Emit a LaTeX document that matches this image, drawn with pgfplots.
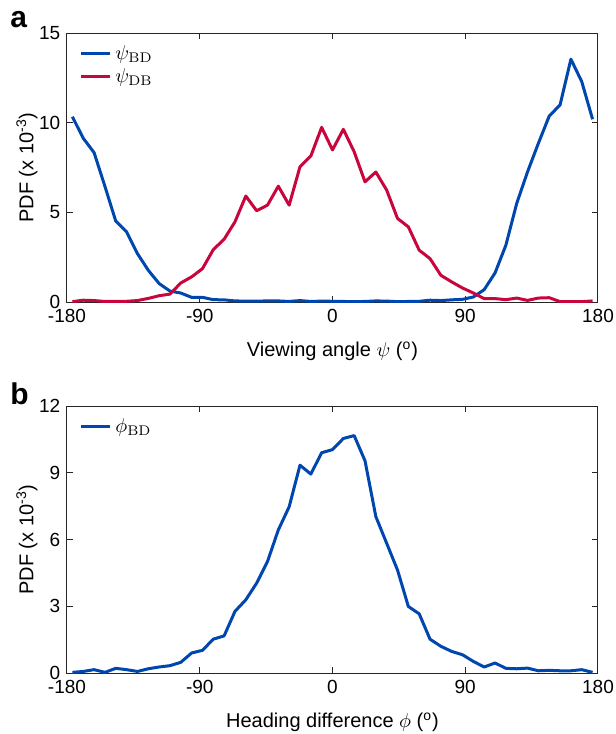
\documentclass[border=0pt]{standalone}
\usepackage[no-math]{fontspec}
\setmainfont{Liberation Sans}
\usepackage{pgfplots}
\usepackage{pgfplotstable}
\pgfplotsset{compat=1.18}
\definecolor{cblue}{RGB}{0,70,175}
\definecolor{cred}{RGB}{200,5,60}

\pgfplotstableread{
x psiBD psiDB phiBD
-176.33 10.33 0.02 0.03
-168.98 9.13 0.10 0.07
-161.63 8.33 0.08 0.15
-154.29 6.45 0.03 0.03
-146.94 4.51 0.03 0.21
-139.59 3.91 0.04 0.15
-132.24 2.70 0.08 0.07
-124.90 1.77 0.20 0.19
-117.55 1.03 0.35 0.27
-110.20 0.61 0.44 0.33
-102.86 0.50 1.06 0.48
-95.51 0.26 1.40 0.90
-88.16 0.26 1.86 1.02
-80.82 0.13 2.92 1.52
-73.47 0.12 3.50 1.67
-66.12 0.06 4.47 2.77
-58.78 0.05 5.91 3.29
-51.43 0.05 5.09 4.04
-44.08 0.06 5.40 5.01
-36.73 0.06 6.46 6.43
-29.39 0.03 5.40 7.47
-22.04 0.08 7.54 9.34
-14.69 0.03 8.14 8.94
-7.35 0.05 9.74 9.90
0.00 0.04 8.48 10.04
7.35 0.03 9.63 10.54
14.69 0.02 8.38 10.67
22.04 0.03 6.70 9.54
29.39 0.06 7.25 7.03
36.73 0.05 6.24 5.83
44.08 0.02 4.66 4.63
51.43 0.03 4.19 2.99
58.78 0.04 2.89 2.66
66.12 0.10 2.42 1.52
73.47 0.08 1.49 1.20
80.82 0.12 1.12 0.97
88.16 0.15 0.78 0.82
95.51 0.28 0.50 0.52
102.86 0.69 0.19 0.27
110.20 1.62 0.19 0.45
117.55 3.17 0.13 0.21
124.90 5.50 0.22 0.19
132.24 7.26 0.09 0.22
139.59 8.85 0.22 0.10
146.94 10.37 0.24 0.12
154.29 10.99 0.02 0.10
161.63 13.54 0.02 0.10
168.98 12.29 0.02 0.15
176.33 10.19 0.06 0.03
}\datatable

\pgfplotsset{myax/.style={
  scale only axis, width=265.5pt,
  xmin=-180, xmax=180, xtick={-180,-90,0,90,180}, xticklabels={-180,-90,0,90,180},
  ymin=0,
  tick align=inside, major tick length=3pt,
  axis line style={line width=0.5pt, black!85},
  every tick/.style={black!85, line width=0.5pt},
  tick label style={font=\fontsize{9.5}{11}\selectfont},
  xticklabel style={inner sep=1pt, yshift=-2.2pt},
  yticklabel style={inner sep=1pt, xshift=-2.2pt},
  /pgf/number format/assume math mode=true,
  label style={font=\fontsize{10}{12}\selectfont},
  xlabel style={at={(axis description cs:0.5,0)}, anchor=center, yshift=-24.75pt},
  ylabel style={at={(axis description cs:0,0.5)}, anchor=center, yshift=20pt},
  legend style={draw=none, fill=none, at={(axis description cs:0,1)}, anchor=north west, xshift=6pt, yshift=-4pt, font=\fontsize{10}{12}\selectfont, row sep=-1pt, inner sep=0pt},
  legend cell align=left,
  legend image code/.code={\draw[#1, line width=1.5pt] (0pt,0pt) -- (14.5pt,0pt);},
  every axis plot/.append style={line width=1.5pt, line join=round, no markers},
}}

\begin{document}
\begin{tikzpicture}
\useasboundingbox (0,0) rectangle (308pt,-367pt);
\node[anchor=base west, font=\bfseries\fontsize{15}{18}\selectfont, inner sep=0pt] at (5pt,-13.5pt) {a};
\node[anchor=base west, font=\bfseries\fontsize{15}{18}\selectfont, inner sep=0pt] at (5pt,-202pt) {b};
\begin{axis}[myax, at={(33.5pt,-151pt)}, anchor=south west, height=134.5pt,
  ymax=15, ytick={0,5,10,15},
  xlabel={Viewing angle $\psi$ (\textsuperscript{o})},
  ylabel={PDF (x 10\textsuperscript{-3})}]
\addplot[cblue] table[x=x, y=psiBD] {\datatable};
\addlegendentry{$\psi_{\mathrm{BD}}$}
\addplot[cred] table[x=x, y=psiDB] {\datatable};
\addlegendentry{$\psi_{\mathrm{DB}}$}
\end{axis}
\begin{axis}[myax, at={(33.5pt,-336.5pt)}, anchor=south west, height=133.5pt,
  ymax=12, ytick={0,3,6,9,12},
  xlabel={Heading difference $\phi$ (\textsuperscript{o})},
  ylabel={PDF (x 10\textsuperscript{-3})}]
\addplot[cblue] table[x=x, y=phiBD] {\datatable};
\addlegendentry{$\phi_{\mathrm{BD}}$}
\end{axis}
\end{tikzpicture}
\end{document}
